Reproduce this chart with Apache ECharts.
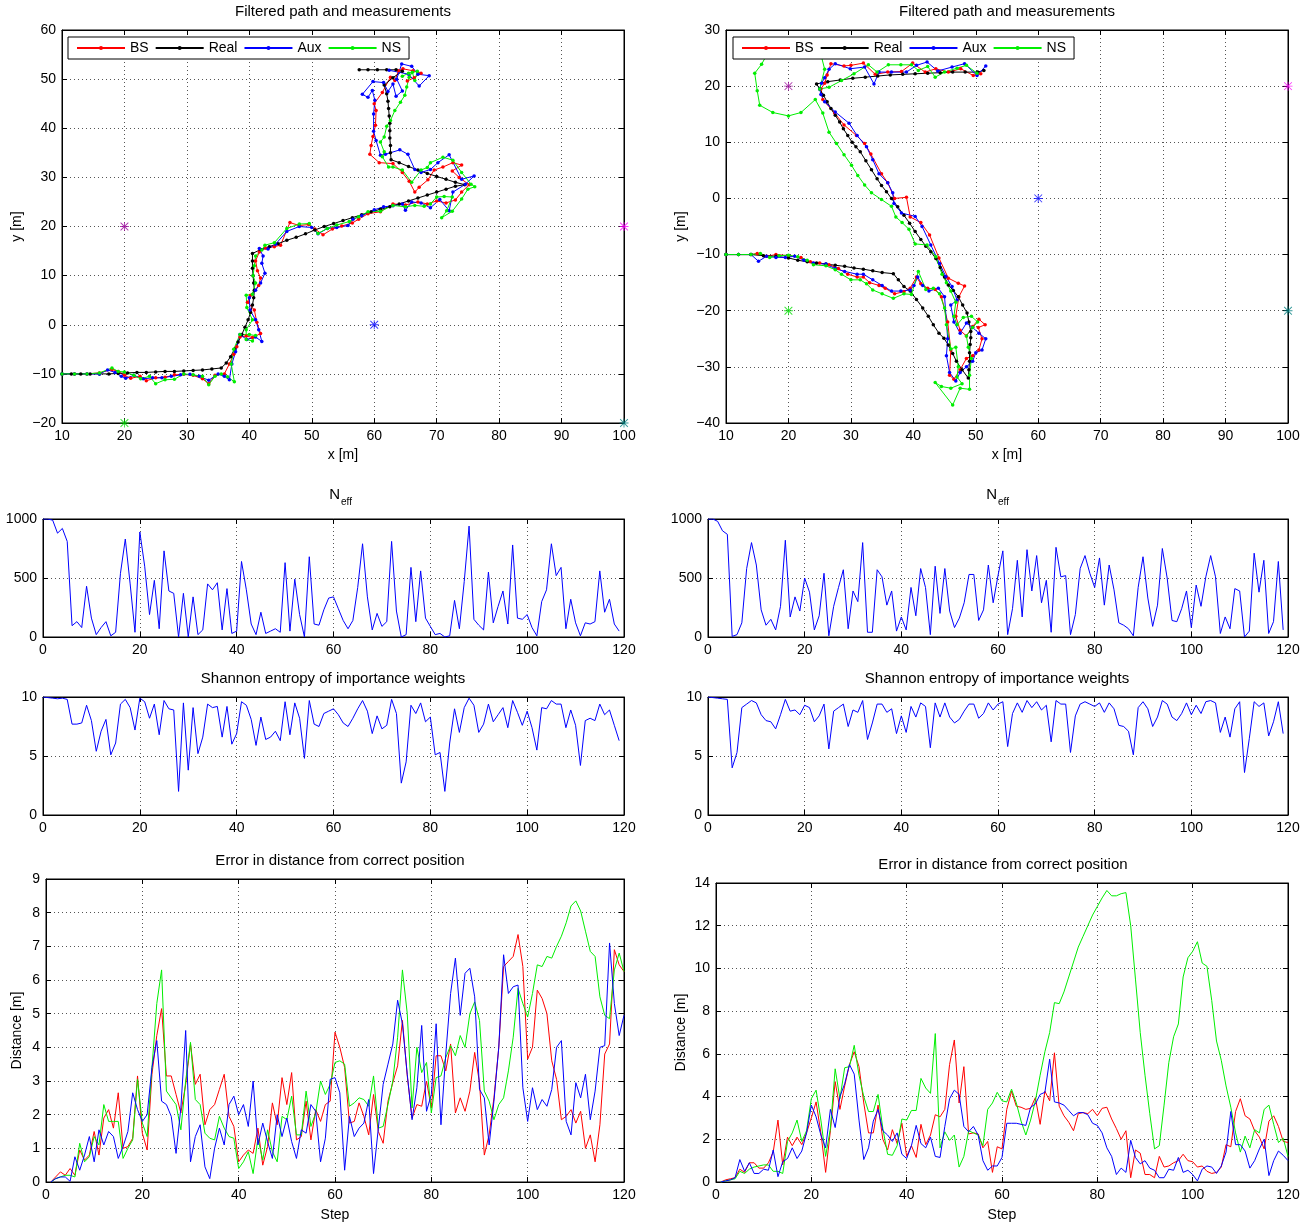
<!DOCTYPE html>
<html>
<head>
<meta charset="utf-8">
<script src="https://cdn.jsdelivr.net/npm/echarts@6/dist/echarts.min.js"></script>
<style>
  html, body { margin: 0; padding: 0; background: #fff; }
  #chart { width: 1315px; height: 1225px; }
</style>
</head>
<body>
<div id="chart"></div>
<script>
// ---------- Filtered paths (x [m], y [m]) : left run ----------
const leftReal = [[10,-10],[11.5,-10],[13,-10],[14.5,-10],[16,-10],[17.5,-10],[19,-9.9],[20.5,-9.8],[22,-9.7],[23.5,-9.7],[25,-9.6],[26.5,-9.5],[28,-9.5],[29.5,-9.4],[31,-9.3],[32.5,-9.2],[34,-9.0],[35.5,-8.8],[36.3,-7.8],[37,-6.5],[37.6,-5],[38.2,-3.5],[38.8,-2],[39.3,-0.5],[39.8,1],[40.2,2.5],[40.5,4],[40.7,5.5],[40.8,7],[40.7,8.5],[40.6,10],[40.5,11.5],[40.5,13],[40.5,14.5],[41.8,15.3],[43.2,15.9],[44.6,16.5],[46,17.2],[47.5,17.8],[49,18.5],[50.5,19.3],[52,20],[53.5,20.6],[55,21.2],[56.5,21.8],[58,22.4],[59.5,23],[61,23.5],[62.5,24],[64,24.6],[65.5,25.2],[67,25.8],[68.5,26.4],[70,27],[71.5,27.6],[73,28.2],[74.5,28.5],[73,29],[71.5,29.6],[70,30.2],[68.5,30.8],[67,31.5],[65.5,32.2],[64,33],[62.7,33.6],[62.6,35],[62.6,36.5],[62.5,38],[62.5,39.5],[62.5,41],[62.4,42.5],[62.3,44],[62.2,45.5],[62,47],[61.6,48.8],[63,50.3],[64.5,51.6],[63.5,51.9],[62,51.9],[60.5,51.9],[59,51.9],[57.6,51.9]];
const leftBS = [[10,-10],[12,-10],[14,-10],[16,-9.8],[18,-9.1],[19,-9.5],[20,-10.3],[21,-10.9],[22.5,-10.5],[23.5,-11.4],[25,-10.8],[26.5,-10.7],[28,-10.2],[29.5,-10.1],[31,-10.3],[32.5,-11],[33.5,-12],[34.5,-10.3],[36,-10],[36.8,-8],[37.5,-6],[38,-4.5],[38.5,-2.5],[39.5,-2.3],[40.5,-2.6],[41.8,-1.8],[41.2,0.5],[40.8,3],[39.7,4.6],[40.2,6],[41.5,8],[41.8,9.5],[41.3,11],[41,13],[41.6,14.8],[42.6,15.6],[44,15.9],[45,16.2],[46.5,20.8],[48,20.2],[49.5,20.4],[50.5,19.5],[51.8,18.3],[53.3,19.5],[54.8,20.1],[56.5,20.7],[57.5,21.5],[59,22.6],[61,23],[63,24.6],[65,24.4],[67,25],[68.5,24.6],[70,25.2],[71.5,24.8],[73,25.4],[74,27],[75.2,28.5],[73.6,30],[72.5,31.3],[74,32.5],[72.6,33],[71,32.1],[69.6,31.5],[68.6,29.5],[67.2,28],[66.5,27],[65.6,29.2],[64.5,31],[63,32.8],[60.8,33],[59.3,34.7],[59.5,36.5],[59.8,38.3],[60.2,40.6],[60.3,43.6],[60,45],[61.3,47.3],[62.6,50.4],[63.3,49.7],[63.9,51.7],[64.6,52.1],[66.2,51.7],[67.5,51.2],[66.4,50.3],[65.3,49.6]];
const leftAux = [[10,-10],[12,-10],[14,-10],[16,-10],[17.3,-9.2],[18.5,-9.7],[19.5,-10.5],[20.2,-10.9],[21.5,-10.3],[23,-11],[24.5,-10.8],[26,-10.8],[27.5,-10.5],[29,-10.2],[30.5,-10.1],[32,-10.5],[33.5,-11.3],[35,-10],[36,-10.5],[36.8,-11.2],[37.2,-8],[37.8,-5.5],[38.5,-2],[39.6,-3],[41,-2.5],[42,-3.4],[41.5,-1],[41,1],[40.1,3],[40,5.5],[41,7],[41.8,8.5],[42.5,10.5],[42,12.5],[42.2,14],[41.6,15.5],[43,15.4],[44.2,16.4],[46,19],[48,20],[50,19.8],[51,18.5],[52.5,19.6],[54,19.8],[55.8,20.2],[56.6,21.5],[58,22.2],[60,23.4],[61.5,24],[63,24.2],[64.5,24.6],[65,23.3],[66,25],[67.5,24.8],[69,23.8],[70.5,25.5],[72,23.2],[72.6,27],[74.6,28.6],[76,30.3],[74,29.6],[72,34.6],[70.2,33],[69,31.6],[67.5,31],[66.5,31.6],[65.4,34.7],[64.1,35.6],[61.8,34.7],[61,34.5],[60.3,37.5],[59.9,39.4],[59.9,42.9],[60.1,45.7],[59.7,47.7],[59,46.3],[58.1,46.9],[59.8,49.5],[61.5,49.3],[62.2,47.5],[63,49],[63.5,46.5],[64.5,47.6],[63.6,50],[64.4,53.1],[66,52.6],[67,51],[68.8,50.7],[67.2,48.6],[65.5,51],[62.4,51.8]];
const leftNS = [[10,-10],[12,-10],[14,-10],[16,-9.8],[18,-8.8],[19,-9.5],[20,-9.6],[21.5,-10.3],[22.6,-11],[24,-10.5],[25,-12],[26.5,-11.2],[28,-11.1],[29.5,-10],[31,-10.2],[32.5,-10.5],[33.5,-12.2],[34.5,-10.5],[35.5,-10],[36.5,-10.6],[37.6,-11.6],[37.1,-8],[37.5,-5],[38.5,-2],[40,-2],[41,-2.2],[40.5,-3.3],[39.5,-3],[39.5,-1],[40.5,1],[39.6,3.5],[39.5,6],[40.5,6.2],[41,8.5],[40.6,10],[40.8,12],[41,14],[42,15.2],[42.5,16.2],[44,16.7],[46,19.6],[48,20.5],[49.6,20.6],[51,18.6],[52.5,19.6],[54,20.3],[56,21],[57.5,22],[59,23],[61,23.1],[63,24.3],[65,24],[66.5,24.3],[68,24.1],[69,24.6],[70,26],[71.2,26.1],[72.5,26],[71.6,23.2],[70.8,21.8],[72.5,23.1],[74,25.6],[75,27.6],[76.1,28.1],[75.5,28.6],[74,31],[72.6,33.5],[71,34.1],[69,33],[68.5,32],[67.5,31.5],[66,29],[64.5,31.5],[63,32.1],[62.3,32.1],[61.3,34.2],[61.6,35.2],[61,37.2],[61.6,38.2],[62,40.4],[62.6,41.6],[63.3,43.6],[64.2,45.3],[64.9,46.7],[65.2,48.4],[65.6,50.4],[66.1,51.4],[66.5,49.7],[66.9,51.6],[65.5,51.2],[64.5,50.6]];

// ---------- Filtered paths : right run ----------
const rightReal = [[10,-10],[12,-10],[14,-10],[16,-10.2],[18,-10.3],[20,-10.6],[21.5,-11],[23,-11.3],[24.5,-11.5],[26,-11.7],[27.5,-11.9],[29,-12.1],[30.5,-12.4],[32,-12.6],[33.5,-12.9],[35,-13.2],[36.8,-13.4],[37.6,-14.5],[38.5,-15.7],[39.5,-16.5],[40.5,-18],[41.5,-19.5],[42.4,-21],[43.2,-22.5],[44.1,-24],[44.9,-24.9],[45.6,-26.1],[46.3,-27.6],[46.9,-29],[47.8,-30.5],[48.8,-32],[48.9,-30.5],[49,-29],[49,-27.5],[49.1,-26],[49.2,-24.8],[49.2,-23.7],[48.9,-22],[48.6,-20.4],[47.9,-19],[47.2,-17.5],[46.4,-16.4],[45.6,-15.4],[45,-14],[44.3,-12.3],[43.6,-10.7],[42.8,-9.5],[42,-8.5],[41.2,-7.3],[40.3,-5.9],[39.4,-4.4],[38.5,-3],[37.5,-1.5],[36.5,0],[35.7,1.2],[34.9,2.3],[34.2,3.5],[33.3,5.1],[32.4,6.7],[31.5,8.3],[30.8,9.2],[30.2,10],[29.5,11.2],[28.8,12.4],[28.2,13.6],[27.5,14.8],[26.8,16],[26.2,17.2],[25.6,18.4],[25,19.5],[24.5,20.4],[26.3,20.8],[28.3,21.1],[30.3,21.4],[32.3,21.6],[34.3,21.8],[36.3,22],[38.3,22.1],[40.3,22.2],[42.3,22.3],[44.3,22.4],[46.3,22.5],[48.3,22.5],[50.3,22.5],[51.3,22.8]];
const rightBS = [[10,-10],[12,-10],[14,-10],[15,-9.8],[16.5,-10.3],[18,-10],[20,-10.2],[22,-10.5],[23.5,-11.3],[25,-11.5],[26.5,-11.8],[28,-12.5],[29.5,-13.5],[31,-14],[32,-14],[33,-15],[34.5,-15.5],[35.5,-16],[37,-17],[38.5,-16.6],[39.5,-16],[40.5,-14],[41.2,-15.2],[42.3,-16],[43.5,-16.2],[44.5,-17.5],[45.5,-22],[46,-27],[45.8,-31.5],[46.5,-32.2],[47.5,-30.5],[48.5,-28.5],[49.5,-28],[50.5,-27],[51,-25],[50.4,-23],[51.5,-22.5],[50.5,-21.5],[49.5,-22.8],[48.5,-24.5],[47.5,-23.5],[46.8,-21],[47.3,-17.5],[48.2,-15.6],[47.2,-15.1],[45.6,-14.2],[44.1,-10.6],[42.6,-6.5],[41.2,-4.3],[39.5,-3.3],[38.9,0.2],[37,0],[35.9,2.8],[34.9,4.4],[33.2,7.9],[32.2,9.8],[30.9,11.2],[28.9,13.1],[27.4,15.2],[25.5,17.6],[25.2,19.5],[25.8,20.5],[26.2,22],[26.8,24],[28.9,23.6],[30,23.7],[32,24.1],[33.9,22.1],[35.9,22.5],[38.1,22.6],[39.9,24.1],[41.9,22.5],[43.6,23.1],[45.6,22.5],[47.6,23.1],[49.6,21.9],[50.8,22.2]];
const rightAux = [[10,-10],[12,-10],[14,-10],[15.2,-11.2],[16.5,-10.3],[18,-10.5],[19.5,-10.5],[21,-10.3],[22.5,-11],[24,-11.5],[26,-11.7],[27.5,-12.5],[29,-13],[31,-13.5],[32,-13.5],[33.5,-14.5],[35,-15.5],[36.5,-16.5],[38,-16.5],[39.5,-16.3],[40.1,-15.5],[40.7,-14],[41.5,-15.5],[42.5,-16.5],[44,-16],[45,-17.5],[45.5,-25],[45.3,-28],[45.8,-31],[46.8,-32.5],[47.5,-31],[48.5,-30],[49.5,-29],[50,-27.5],[51,-27],[51.6,-25],[50.5,-24],[49.5,-23],[48.5,-22.2],[47.5,-24],[46.5,-22],[46,-19],[47,-18.1],[46.2,-15.7],[45.2,-13.9],[44.2,-11.6],[42.8,-8.3],[41.4,-5],[40.3,-3.2],[38.1,-2.6],[36.9,-0.9],[36.7,1],[35.9,2.8],[34.5,4.4],[33.5,6.9],[32.5,9.2],[31,11.2],[29.7,13.4],[27.5,15.4],[25.8,17.2],[25.2,18.5],[25,19.5],[25.3,20.5],[25.8,21.5],[26.5,23],[27.5,24],[29.9,23.1],[32.2,23.4],[33.7,20.4],[34.5,22.5],[36.5,22.5],[38.9,22.5],[40.5,23.7],[42.2,24.3],[43.9,22.7],[46.2,23.4],[48.2,24],[50.2,21.9],[51.6,23.6]];
const rightNS = [[10,-10],[12,-10],[14,-10],[15.5,-9.8],[17,-10.5],[18.5,-10.2],[20,-10.1],[21.5,-10.4],[23,-11],[24,-11.8],[26,-12],[27.5,-12.7],[28.5,-13.5],[30,-14.5],[31.5,-14.5],[32.5,-15.2],[33.5,-16.3],[35,-17],[36.8,-17.8],[38.5,-17],[39.7,-17.1],[40.8,-13],[42,-16.2],[43.2,-16],[44.2,-17],[45,-19.5],[45.3,-22.5],[46,-26.8],[46.8,-26.5],[47.2,-30],[47,-31.8],[47.8,-33],[46,-33.8],[44.5,-33.5],[43.5,-32.8],[46.3,-36.8],[47.5,-33.8],[49,-34],[49,-31.5],[49.3,-28.5],[48.8,-26.5],[48.5,-24.5],[49.5,-23],[50.3,-22],[49.3,-21],[48,-21.2],[47,-22.5],[46.5,-21],[46.8,-18.5],[46,-16.5],[45.3,-15],[44.6,-13.5],[43.6,-10.4],[42.2,-8.3],[40.3,-8.1],[39.3,-5.5],[38.2,-4.3],[37.2,-3.3],[36.5,-1.4],[34.9,-0.2],[33.3,1],[32.2,2.4],[31.1,4.1],[30.1,5.9],[28.9,7.8],[27.7,9.8],[26.5,11.8],[25.5,15.2],[24.3,17.6],[22,15.3],[20,14.7],[17.5,15.3],[15.4,16.6],[15,19.2],[14.6,22.3],[15.7,23.9],[17,26.5],[19.5,28.3],[22.5,28.2],[25,26.5],[25.8,23],[25,19.5],[26.5,19.8],[28.5,21],[30.5,22.2],[32.8,23.8],[34.2,22.5],[36,23.8],[38,23.8],[39.7,23.8],[40.8,22.8],[42.3,23.5],[43.5,21.6],[45,22.5],[47,23.2],[48.5,23.7],[50.2,22.3]];

// beacon positions and colours (same layout in both runs)
const beaconPos = [[20,20],[100,20],[60,0],[20,-20],[100,-20]];
const beaconColors = ['#990099','#ff00ff','#0000ff','#00dd00','#008080'];

// ---------- Effective sample size, step 0..119 ----------
const neffLeft = [1000,1000,990,880,920,810,96,130,80,430,160,20,80,130,10,40,540,830,450,40,890,600,190,480,70,730,390,370,0,370,0,340,20,60,450,400,460,60,410,30,50,640,400,110,20,210,30,50,70,40,630,50,490,190,0,680,110,100,230,330,340,240,140,70,140,420,790,340,60,200,90,130,810,220,0,20,590,130,560,160,90,20,30,0,10,310,70,470,940,150,100,60,550,120,260,390,110,780,160,150,190,80,10,300,400,790,520,590,70,320,120,10,120,110,130,560,210,320,110,50];
const neffRight = [1000,1000,980,900,870,5,20,120,580,800,610,230,100,150,60,260,820,170,340,220,500,380,60,180,540,10,260,420,570,70,390,300,800,40,40,570,510,270,390,50,170,60,420,180,580,420,20,600,200,580,220,80,160,290,530,530,140,230,610,290,520,730,20,240,650,170,740,390,690,290,480,40,760,510,520,20,190,580,690,540,420,670,270,610,400,120,100,70,10,420,680,330,90,270,750,500,140,130,240,390,80,440,260,510,690,510,30,170,70,410,390,0,50,710,380,650,30,130,640,60];

// ---------- Shannon entropy, step 0..119 ----------
const shanLeft = [10,9.95,9.9,9.85,9.9,9.8,7.7,7.7,7.8,9.3,8.0,5.4,7.1,8.1,5.1,6.1,9.4,9.8,9.1,7.2,9.9,9.6,8.2,9.4,6.8,9.7,9.0,8.9,2.0,9.5,3.8,9.1,5.2,6.6,9.4,9.1,9.2,6.6,9.2,6.0,6.9,9.6,9.3,8.1,5.9,8.3,6.4,6.6,7.1,6.3,9.6,6.8,9.5,8.2,4.8,9.7,7.7,7.5,8.6,8.8,9.0,8.5,7.8,7.5,8.2,9.0,9.7,8.8,6.9,8.4,7.3,7.6,9.8,8.6,2.7,4.5,9.3,8.6,9.5,7.9,8.3,5.1,5.3,2.0,6.1,9.0,7.0,9.1,9.9,9.3,7.0,7.7,9.4,7.9,8.5,9.1,7.4,9.7,8.7,7.6,8.8,7.4,5.5,9.1,9.0,9.7,9.4,9.4,7.4,8.9,7.6,4.2,8.0,8.2,8.0,9.4,8.5,8.9,7.6,6.3];
const shanRight = [10,9.95,9.9,9.85,9.8,4.0,5.3,9.1,9.4,9.7,9.5,8.5,8.0,7.9,7.3,8.5,9.8,8.8,8.9,8.5,9.3,9.1,7.9,8.4,9.4,5.6,8.8,9.1,9.4,7.5,8.9,8.7,9.7,6.4,7.8,9.4,9.4,8.7,9.0,6.9,8.4,7.0,9.2,8.3,9.5,9.2,5.7,9.5,8.3,9.5,8.3,7.8,8.1,8.8,9.4,9.4,8.2,8.6,9.5,8.9,9.4,9.6,5.8,8.6,9.5,8.7,9.7,9.1,9.6,8.9,9.3,6.2,9.7,9.4,9.4,5.3,8.4,9.4,9.6,9.4,9.2,9.5,8.7,9.5,9.0,7.6,7.5,7.1,5.1,9.1,9.6,9.0,7.5,8.3,9.7,9.4,8.3,8.0,8.6,9.5,8.5,9.3,8.6,9.6,9.7,9.5,7.0,8.3,6.6,9.0,9.6,3.6,6.5,9.6,9.2,9.5,6.7,7.9,9.6,6.9];

// ---------- Position error [m], step 1..120 ----------
const errLeftBS = [0,0.15,0.3,0.2,0.4,0.2,0.95,0.65,0.8,1.5,0.8,1.9,2.15,1.6,2.65,1.0,1.05,1.3,3.15,1.45,0.95,3.2,4.35,5.15,3.15,3.15,2.6,2.05,2.9,4.1,2.9,3.2,1.7,2.15,2.3,2.75,3.2,1.95,1.65,0.6,0.8,0.95,0.85,1.6,0.5,1.05,2.35,1.7,3.1,2.3,3.25,1.25,1.35,2.4,1.25,2.15,1.8,2.3,2.4,4.45,4.0,3.4,1.75,1.8,2.35,1.95,1.4,2.6,1.5,1.15,2.4,2.95,3.45,4.8,3.15,1.9,2.3,2.25,3.0,2.2,3.75,3.75,3.3,4.1,2.05,2.5,2.1,2.7,3.85,2.95,0.8,1.4,2.5,4.0,6.4,6.55,6.7,7.35,6.4,3.65,4.0,5.7,5.45,5.0,3.6,3.05,1.85,1.95,2.15,1.75,2.1,1.0,1.4,0.6,1.7,3.8,4.1,6.9,6.45,6.25];
const errLeftAux = [0,0.1,0.15,0.15,0.02,0.75,0.35,0.8,1.35,0.6,1.55,1.1,1.5,1.35,0.7,1.05,1.5,2.65,2.15,1.8,2.0,3.4,4.2,2.4,2.3,1.95,0.85,2.2,4.5,0.6,1.35,1.7,0.45,0.1,1.0,1.6,1.1,2.3,2.55,2.0,2.3,1.65,3.0,1.1,1.75,1.2,0.7,2.0,1.35,1.9,1.2,0.7,1.55,1.45,2.3,2.1,0.6,1.3,3.05,3.1,2.65,0.35,1.95,1.35,1.6,1.75,2.45,0.25,1.6,2.9,3.5,4.1,5.4,4.7,3.2,1.85,2.8,4.65,2.1,2.6,4.7,1.7,3.8,5.6,6.65,4.95,6.2,6.35,5.5,2.75,2.5,1.1,2.4,4.0,6.75,5.6,5.8,5.85,2.8,1.8,2.8,2.15,2.45,2.25,2.75,4.0,4.2,1.8,1.4,2.95,2.5,3.2,1.85,2.7,4.0,4.05,7.1,5.3,4.35,4.95];
const errLeftNS = [0,0.1,0.15,0.2,0.2,0.15,1.15,0.6,0.75,1.35,1.1,2.3,1.8,1.8,1.8,0.7,1.0,1.25,3.05,1.75,1.35,3.4,5.3,6.3,2.7,2.5,2.3,1.55,3.0,4.15,2.45,2.3,1.45,1.3,1.25,1.95,1.6,1.35,1.3,0.4,0.6,0.9,0.25,1.3,0.65,1.55,0.9,0.6,1.95,1.85,2.55,1.4,1.4,2.7,1.65,2.05,3.0,2.6,2.9,3.55,3.6,3.5,2.25,2.35,2.5,2.45,2.25,3.15,1.6,1.65,2.3,3.0,4.3,6.3,5.0,2.2,4.0,3.25,3.55,2.05,3.1,3.15,3.7,4.05,3.75,4.35,4.0,5.0,5.35,4.8,2.7,2.4,1.85,2.3,2.5,3.3,4.3,5.75,5.3,4.9,5.6,6.45,6.4,6.7,6.65,7.0,7.3,7.7,8.2,8.35,8.05,7.45,6.85,6.7,5.5,4.95,4.85,6.3,6.8,6.25];
const errRightBS = [0,0.1,0.15,0.2,0.6,0.45,0.9,0.9,0.65,0.65,0.9,1.4,2.9,0.8,2.1,1.7,2.1,1.75,2.3,3.0,3.75,2.3,0.45,2.4,4.7,3.4,4.5,5.5,6.1,5.4,3.7,2.3,2.3,3.6,2.0,1.5,2.45,1.8,2.75,1.2,1.7,1.15,2.7,1.75,2.2,3.15,3.05,3.4,5.5,6.65,3.7,5.4,2.25,2.3,2.25,1.6,1.9,0.45,1.65,1.55,3.4,4.25,3.55,3.5,3.4,3.45,3.95,2.7,4.25,3.8,6.05,3.55,3.1,2.8,2.4,3.2,3.25,3.2,3.4,3.1,3.45,3.5,2.95,2.5,2.0,2.4,0.2,1.5,1.35,0.35,0.35,0.2,1.2,0.7,0.75,0.9,1.0,1.3,1.0,0.95,0.7,0.75,0.5,0.4,0.45,0.7,1.75,1.65,3.3,3.9,3.1,2.95,2.4,2.1,1.55,2.85,3.1,2.6,1.9,1.85];
const errRightAux = [0,0.05,0.1,0.2,1.05,0.5,0.9,0.4,0.4,0.6,0.55,1.5,0.25,0.95,1.1,1.6,1.1,1.45,2.3,3.6,3.05,2.2,1.6,3.4,2.55,4.0,4.6,5.5,5.05,2.9,1.05,1.6,2.85,3.4,2.4,2.2,1.9,2.3,1.3,1.1,1.7,2.65,1.8,1.6,2.1,1.2,1.15,2.6,3.9,4.3,4.1,2.6,2.35,2.6,2.2,1.0,0.55,0.75,0.75,1.15,2.75,2.75,2.75,2.7,2.65,3.5,3.65,4.1,4.2,5.75,3.75,3.7,3.6,3.35,3.1,3.25,3.25,3.15,2.75,2.65,2.3,1.6,1.2,0.35,0.65,0.45,1.95,1.15,0.85,1.0,0.65,0.55,0.2,0.2,0.6,0.55,1.15,0.45,0.55,0.35,0.05,0.6,0.75,0.7,0.4,0.75,1.4,3.3,1.75,1.75,1.45,0.65,1.0,1.55,2.0,0.3,1.0,1.45,1.25,1.0];
const errRightNS = [0,0.05,0.1,0.15,0.5,0.4,0.6,0.7,0.75,0.8,0.8,0.5,0.5,0.4,1.9,2.3,2.9,1.9,2.4,3.9,4.3,2.9,1.2,2.5,5.3,3.9,5.35,5.4,6.4,5.0,4.0,3.3,3.3,4.1,2.5,1.3,1.25,1.7,2.95,2.9,3.35,3.35,4.85,4.4,4.15,6.95,1.6,2.35,1.95,2.2,0.7,1.2,2.4,2.3,2.2,1.7,3.4,3.7,4.2,3.8,3.75,4.35,3.7,2.85,2.2,2.9,3.8,5.0,6.1,7.0,8.4,8.35,8.9,9.6,10.3,11.0,11.5,12.0,12.5,12.9,13.3,13.65,13.4,13.4,13.5,13.55,12.0,9.5,7.0,5.0,3.2,1.55,1.7,3.6,5.6,6.8,7.4,9.6,10.5,10.8,11.25,10.25,10.1,8.5,6.6,5.7,4.5,3.5,2.3,1.4,2.15,1.6,2.45,2.3,3.4,3.6,2.7,1.85,2.05,1.2];

// ---------- styling ----------
const FONT = '"Liberation Sans", Arial, Helvetica, sans-serif';
const RED = '#ff0000', BLUE = '#0000ff', GREEN = '#00ee00', BLACK = '#000000';
const ASTERISK = 'path://M9,0H11V20H9Z M0,9H20V11H0Z M2.1,0.7L19.3,17.9L17.9,19.3L0.7,2.1Z M17.9,0.7L19.3,2.1L2.1,19.3L0.7,17.9Z';

// plot rectangles: left, top, width, height
const boxes = [
  [62, 30, 562, 393],   // path, left
  [726, 30, 562, 393],  // path, right
  [43, 519, 581, 118],  // Neff, left
  [708, 519, 580, 118], // Neff, right
  [43, 697, 581, 118],  // entropy, left
  [708, 697, 580, 118], // entropy, right
  [46, 879, 578, 303],  // error, left
  [716, 883, 572, 299]  // error, right
];
// axis ranges per plot: [xmin, xmax, xstep, ymin, ymax, ystep]
const ranges = [
  [10, 100, 10, -20, 60, 10],
  [10, 100, 10, -40, 30, 10],
  [0, 120, 20, 0, 1000, 500],
  [0, 120, 20, 0, 1000, 500],
  [0, 120, 20, 0, 10, 5],
  [0, 120, 20, 0, 10, 5],
  [0, 120, 20, 0, 9, 1],
  [0, 120, 20, 0, 14, 2]
];

const minusFmt = v => String(v).replace('-', '\u2212');

function axis(grid, min, max, interval, extra) {
  return Object.assign({
    type: 'value', gridIndex: grid, min: min, max: max, interval: interval,
    axisLine: { show: true, onZero: false, lineStyle: { color: '#000', width: 1 } },
    axisTick: { show: true, inside: true, length: 5, lineStyle: { color: '#000' } },
    axisLabel: { color: '#000', fontSize: 14, fontFamily: FONT, margin: 6, formatter: minusFmt },
    splitLine: { show: true, lineStyle: { color: '#555', type: [1, 3], width: 1 } },
    nameTextStyle: { color: '#000', fontSize: 14, fontFamily: FONT },
    nameLocation: 'middle'
  }, extra || {});
}
// mirrored tick marks on the top and right edges of each box
function mirror(grid, min, max, interval, pos) {
  return axis(grid, min, max, interval, {
    position: pos, axisLabel: { show: false }, splitLine: { show: false }
  });
}

const grids = boxes.map(b => ({
  left: b[0], top: b[1], width: b[2], height: b[3],
  show: true, borderColor: '#000', borderWidth: 1, backgroundColor: '#fff'
}));

const xNames = { 0: ['x [m]', 25], 1: ['x [m]', 25], 6: ['Step', 26], 7: ['Step', 26] };
const yNames = { 0: ['y [m]', 38], 1: ['y [m]', 38], 6: ['Distance [m]', 22], 7: ['Distance [m]', 28] };

const xAxes = ranges.map((r, i) => axis(i, r[0], r[1], r[2],
  xNames[i] ? { name: xNames[i][0], nameGap: xNames[i][1] } : {}));
const yAxes = ranges.map((r, i) => axis(i, r[3], r[4], r[5],
  yNames[i] ? { name: yNames[i][0], nameGap: yNames[i][1] } : {}));
ranges.forEach((r, i) => {
  xAxes.push(mirror(i, r[0], r[1], r[2], 'top'));
  yAxes.push(mirror(i, r[3], r[4], r[5], 'right'));
});

function pathSeries(name, data, color, idx) {
  return {
    type: 'line', name: name, data: data, xAxisIndex: idx, yAxisIndex: idx,
    symbol: 'circle', symbolSize: 3.5, showSymbol: true,
    lineStyle: { color: color, width: 1 }, itemStyle: { color: color },
    emphasis: { disabled: true }, clip: true
  };
}
function stepSeries(name, values, offset, color, idx) {
  return {
    type: 'line', name: name, data: values.map((v, i) => [i + offset, v]),
    xAxisIndex: idx, yAxisIndex: idx, showSymbol: false, symbol: 'none',
    lineStyle: { color: color, width: 1 }, itemStyle: { color: color },
    emphasis: { disabled: true }
  };
}
function beaconSeries(idx) {
  return {
    type: 'scatter', xAxisIndex: idx, yAxisIndex: idx, symbol: ASTERISK, symbolSize: 9,
    data: beaconPos.map((p, i) => ({ value: p, itemStyle: { color: beaconColors[i] } })),
    clip: false, z: 5, emphasis: { disabled: true }
  };
}

const series = [
  pathSeries('BS', leftBS, RED, 0),
  pathSeries('Real', leftReal, BLACK, 0),
  pathSeries('Aux', leftAux, BLUE, 0),
  pathSeries('NS', leftNS, GREEN, 0),
  beaconSeries(0),
  pathSeries('BS', rightBS, RED, 1),
  pathSeries('Real', rightReal, BLACK, 1),
  pathSeries('Aux', rightAux, BLUE, 1),
  pathSeries('NS', rightNS, GREEN, 1),
  beaconSeries(1),
  stepSeries('neffL', neffLeft, 0, BLUE, 2),
  stepSeries('neffR', neffRight, 0, BLUE, 3),
  stepSeries('shanL', shanLeft, 0, BLUE, 4),
  stepSeries('shanR', shanRight, 0, BLUE, 5),
  stepSeries('errBS_L', errLeftBS, 1, RED, 6),
  stepSeries('errNS_L', errLeftNS, 1, GREEN, 6),
  stepSeries('errAux_L', errLeftAux, 1, BLUE, 6),
  stepSeries('errBS_R', errRightBS, 1, RED, 7),
  stepSeries('errNS_R', errRightNS, 1, GREEN, 7),
  stepSeries('errAux_R', errRightAux, 1, BLUE, 7)
];

function legendAt(left) {
  return {
    left: left, top: 37, orient: 'horizontal', selectedMode: false,
    data: ['BS', 'Real', 'Aux', 'NS'],
    itemWidth: 48, itemHeight: 5, itemGap: 6, padding: [4, 8],
    backgroundColor: '#fff', borderColor: '#000', borderWidth: 1, borderRadius: 0,
    textStyle: { color: '#000', fontSize: 14, fontFamily: FONT }
  };
}

function label(text, x, y, size, align) {
  return {
    type: 'text', x: x, y: y, z: 100, silent: true,
    style: { text: text, fill: '#000', fontSize: size, fontFamily: FONT,
             align: align || 'center', verticalAlign: 'middle' }
  };
}

const graphics = [
  label('Filtered path and measurements', 343, 12, 15),
  label('Filtered path and measurements', 1007, 12, 15),
  label('N', 340, 495, 15, 'right'),
  label('eff', 341, 502, 10, 'left'),
  label('N', 997, 495, 15, 'right'),
  label('eff', 998, 502, 10, 'left'),
  label('Shannon entropy of importance weights', 333, 679, 15),
  label('Shannon entropy of importance weights', 997, 679, 15),
  label('Error in distance from correct position', 340, 861, 15),
  label('Error in distance from correct position', 1003, 865, 15)
];

const chart = echarts.init(document.getElementById('chart'), null, { renderer: 'canvas' });
chart.setOption({
  animation: false,
  backgroundColor: '#fff',
  grid: grids,
  xAxis: xAxes,
  yAxis: yAxes,
  legend: [legendAt(68), legendAt(733)],
  series: series,
  graphic: graphics
});
</script>
</body>
</html>
